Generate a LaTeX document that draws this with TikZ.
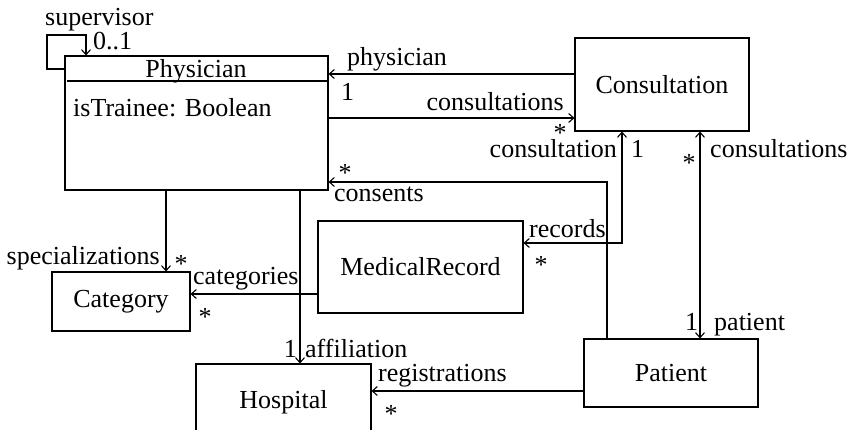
\documentclass[tikz,border=0pt]{standalone}
\usepackage{fontspec}
\setmainfont{Liberation Serif}
\usetikzlibrary{arrows.meta}
\newcommand{\mystar}{\raisebox{-0.31em}[0.37em][0pt]{*}}
\begin{document}
\begin{tikzpicture}[x=1pt,y=-1pt,
  font=\fontsize{26}{30}\selectfont,
  box/.style={draw, line width=1.1pt, inner sep=0pt, rectangle},
  arr/.style={line width=1.1pt, -{Straight Barb[length=5pt,width=9pt]}},
  arrb/.style={line width=1.1pt, {Straight Barb[length=5pt,width=9pt]}-{Straight Barb[length=5pt,width=9pt]}},
  lab/.style={inner sep=0pt, anchor=base west},
  labr/.style={inner sep=0pt, anchor=base east},
  labc/.style={inner sep=0pt, anchor=base},
  star/.style={inner sep=0pt, anchor=center}]
\useasboundingbox (0,0) rectangle (848,430);
\clip (0,0) rectangle (848,430);
% classes
\node[box, minimum width=263pt, minimum height=134pt] (Phys) at (196.5,123) {};
\node[labc] (PhysT) at (196,78) {Physician};
\draw[line width=1.1pt] (67,81) -- (Phys.east |- 0,81);
\node[lab] (PhysA) at (73,117) {isTrainee: Boolean};
\node[box, minimum width=174pt, minimum height=93pt] (Cons) at (662,84.5) {Consultation};
\node[box, minimum width=205pt, minimum height=92pt] (Med) at (420.5,267) {MedicalRecord};
\node[box, minimum width=138pt, minimum height=59pt] (Cat) at (121,301.5) {Category};
\node[box, minimum width=175pt, minimum height=76pt] (Hosp) at (283.5,402) {Hospital};
\node[box, minimum width=174pt, minimum height=68pt] (Pat) at (671,373) {Patient};
% self loop
\draw[arr] (Phys.west |- 0,69) -- (47,69) -- (47,35) -- (86,35) -- (Phys.north -| 86,0);
\node[lab] at (45,26) {supervisor};
\node[lab] at (93,50) {0..1};
% physician / consultations
\draw[arr] (Cons.west |- 0,74) -- (Phys.east |- 0,74);
\node[lab] at (347,66) {physician};
\node[lab] at (341,101) {1};
\draw[arr] (Phys.east |- 0,118) -- (Cons.west |- 0,118);
\node[labr] at (564,111) {consultations};
\node[star] at (560,129) {\mystar};
% consultation - records
\draw[arrb] (Cons.south -| 622,0) |- (Med.east |- 0,243);
\node[labr] at (617,158) {consultation};
\node[lab] at (631,158) {1};
\node[lab] at (529,238) {records};
\node[star] at (541,261) {\mystar};
% consultations - patient
\draw[arrb] (Cons.south -| 700,0) -- (Pat.north -| 700,0);
\node[star] at (689,159) {\mystar};
\node[lab] at (710,158) {consultations};
\node[lab] at (685,330) {1};
\node[lab] at (714,330) {patient};
% consents
\draw[arr] (Pat.north -| 607,0) |- (Phys.east |- 0,182);
\node[star] at (345,169) {\mystar};
\node[lab] at (334,202) {consents};
% specializations
\draw[arr] (Phys.south -| 166,0) -- (Cat.north -| 166,0);
\node[labr] at (160,265) {specializations};
\node[star] at (181,260) {\mystar};
% categories
\draw[arr] (Med.west |- 0,294) -- (Cat.east |- 0,294);
\node[lab] at (193,284) {categories};
\node[star] at (205,313) {\mystar};
% affiliation
\draw[arr] (Phys.south -| 300,0) -- (Hosp.north -| 300,0);
\node[labr] at (297,357) {1};
\node[lab] at (305,357) {affiliation};
% registrations
\draw[arr] (Pat.west |- 0,391) -- (Hosp.east |- 0,391);
\node[lab] at (378,381) {registrations};
\node[star] at (391,410) {\mystar};
\end{tikzpicture}
\end{document}
